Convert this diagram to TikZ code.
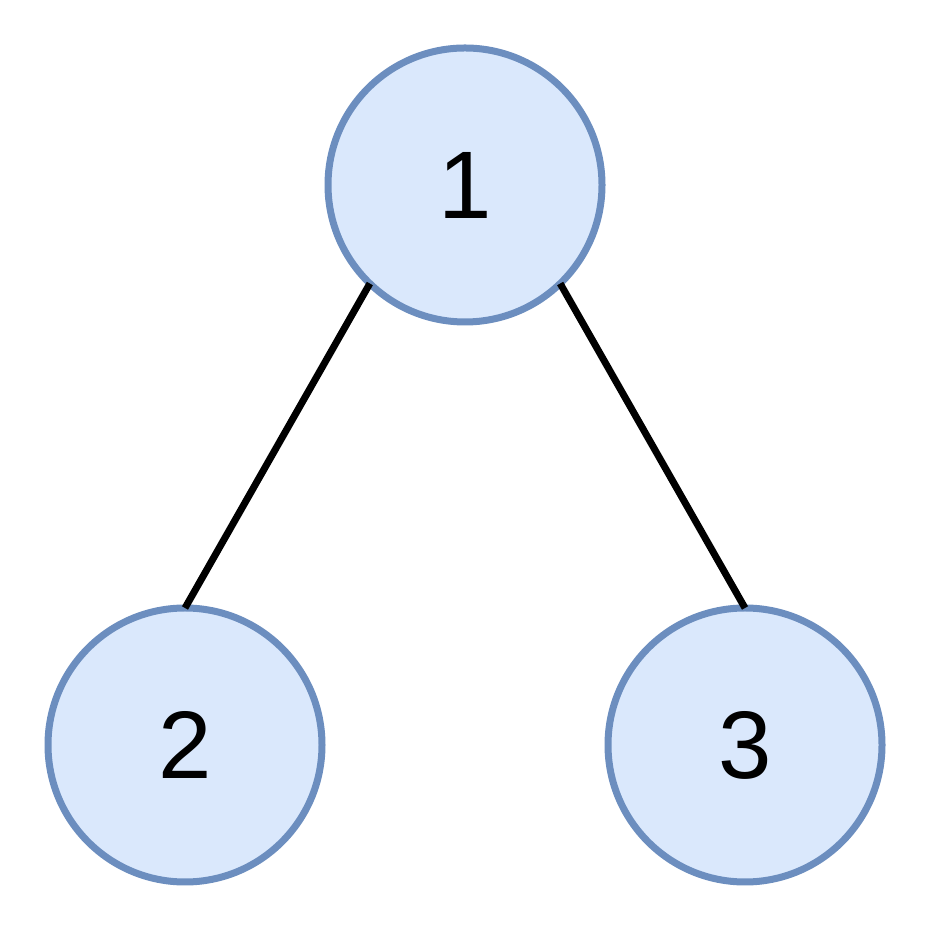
\documentclass[tikz,border=0pt]{standalone}
\usepackage{fontspec}
\setmainfont{Liberation Sans}
\definecolor{bluefill}{HTML}{DAE8FC}
\definecolor{blueline}{HTML}{6C8EBF}
\begin{document}
\begin{tikzpicture}[x=1pt,y=1pt,
  vert/.style={circle,draw=blueline,fill=bluefill,line width=7pt,minimum size=274pt,inner sep=0pt,outer sep=0pt,font=\fontsize{96}{96}\selectfont},
  edge/.style={line width=7pt,black}]
\useasboundingbox (0,0) rectangle (928,928);
\node[vert] (n1) at (465,743) {1};
\node[vert] (n2) at (185,183) {2};
\node[vert] (n3) at (745,183) {3};
\draw[edge] (n1.226) -- (n2.north);
\draw[edge] (n1.314) -- (n3.north);
\end{tikzpicture}
\end{document}
